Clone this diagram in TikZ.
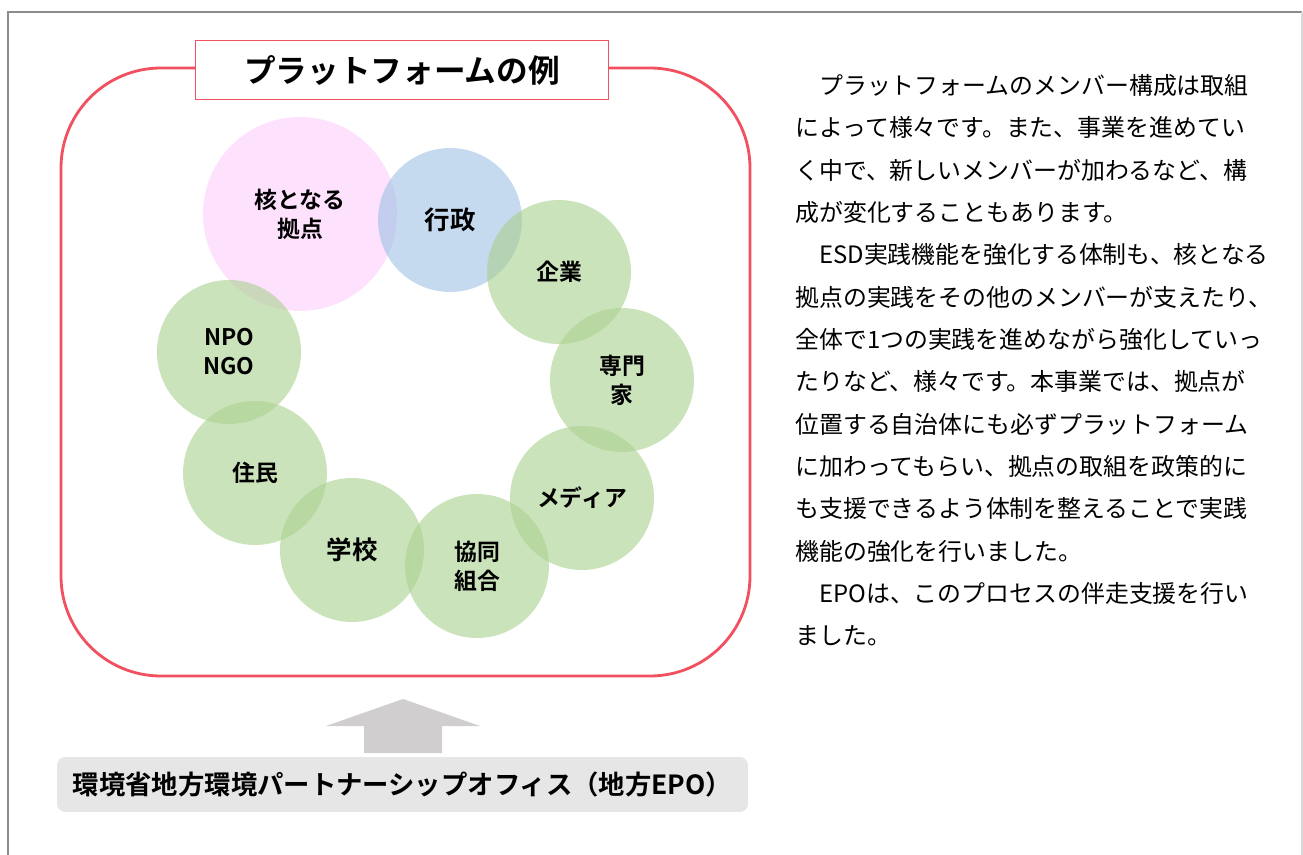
\documentclass[tikz,border=0pt]{standalone}
\usepackage{fontspec}
\setmainfont{Noto Sans CJK JP}[BoldFont={Noto Sans CJK JP Bold}]
\usepackage{tikz}
\definecolor{framered}{RGB}{240,80,95}
\definecolor{pinkc}{RGB}{252,205,252}
\definecolor{bluec}{RGB}{158,193,228}
\definecolor{greenc}{RGB}{169,208,142}
\definecolor{arrowgray}{RGB}{208,206,207}
\definecolor{boxgray}{RGB}{230,230,230}
\tikzset{
  member/.style={circle, inner sep=0pt, minimum size=2.88cm, fill=greenc,
    fill opacity=0.6, text opacity=1, align=center,
    font=\bfseries\fontsize{13}{16.5}\selectfont},
  bigname/.style={font=\bfseries\fontsize{14.5}{17}\selectfont},
}

\begin{document}
\begin{tikzpicture}[x=0.02cm, y=-0.02cm]
   \useasboundingbox (0,0) rectangle (1303,855);
   \draw [gray!90, line width=1.2pt] (8,855) -- (8,12) -- (1302,12);
   \draw [gray!30, line width=1pt] (1302,12) -- (1302,855);

   \draw [framered, line width=1.6pt, rounded corners=2cm] (61,68) rectangle (750,676);
   \node [draw=framered, line width=1pt, fill=white, minimum width=8.26cm, minimum height=1.18cm,
          font=\bfseries\fontsize{18}{22}\selectfont] (title) at (402,70) {プラットフォームの例};

   \node [member, fill=pinkc, minimum size=3.88cm] (kyoten) at (300,214) {核となる\\拠点};
   \node [member, fill=bluec, bigname] (gyosei) at (450,220) {行政};
   \node [member] (kigyo) at (559,272) {企業};
   \node [member] (senmon) at (622,380) {専門\\家};
   \node [member] (media) at (582,498) {\raisebox{-0.4ex}{メディア}};
   \node [member] (kyodo) at (477,566) {協同\\組合};
   \node [member, bigname] (gakko) at (352,550) {学校};
   \node [member] (jumin) at (255,473) {住民};
   \node [member] (npo) at (229,352) {NPO\\NGO};

   \fill [arrowgray] (364,753) -- (364,726) -- (326,726) -- (403,699) -- (480,726) -- (442,726) -- (442,753) -- cycle;
   \node [fill=boxgray, rounded corners=0.16cm, minimum width=13.82cm, minimum height=1.1cm,
          font=\bfseries\fontsize{15}{18}\selectfont] (epo) at (402.5,784.5)
          {環境省地方環境パートナーシップオフィス（地方EPO）};

   \node [anchor=north west, inner sep=0pt, align=left,
          font=\fontsize{13.6}{24.1}\selectfont] (body) at (795,74)
          {　プラットフォームのメンバー構成は取組\\
           によって様々です。また、事業を進めてい\\
           く中で、新しいメンバーが加わるなど、構\\
           成が変化することもあります。\\
           　ESD実践機能を強化する体制も、核となる\\
           拠点の実践をその他のメンバーが支えたり、\\
           全体で1つの実践を進めながら強化していっ\\
           たりなど、様々です。本事業では、拠点が\\
           位置する自治体にも必ずプラットフォーム\\
           に加わってもらい、拠点の取組を政策的に\\
           も支援できるよう体制を整えることで実践\\
           機能の強化を行いました。\\
           　EPOは、このプロセスの伴走支援を行い\\
           ました。};
\end{tikzpicture}
\end{document}
